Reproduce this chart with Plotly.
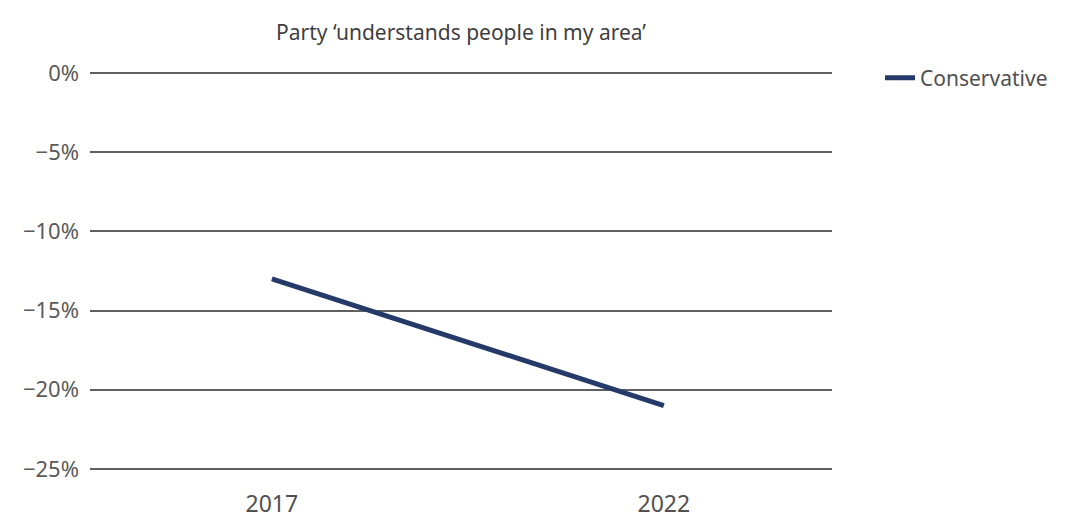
import plotly.graph_objects as go

# Survey years and net score for the Conservative party
years = ["2017", "2022"]
conservative = [-13, -21]

# Y axis tick values and their labels
y_ticks = [0, -5, -10, -15, -20, -25]
y_tick_labels = ["0%", "−5%", "−10%", "−15%", "−20%", "−25%"]

title_text = "Party ‘understands people in my area’"

fig = go.Figure()
fig.add_trace(go.Scatter(
    x=[0, 1],
    y=conservative,
    mode="lines",
    name="Conservative",
    line=dict(color="#253a68", width=5),
))

font_family = "Noto Sans, DejaVu Sans, sans-serif"

fig.update_layout(
    width=1080,
    height=520,
    paper_bgcolor="white",
    plot_bgcolor="white",
    margin=dict(l=90, r=248, t=70, b=48, autoexpand=False),
    title=dict(
        text=title_text,
        x=0.5,
        xanchor="center",
        xref="paper",
        y=1 - 33 / 520,
        yanchor="middle",
        yref="container",
        font=dict(family=font_family, size=21, color="#3f3f3f"),
    ),
    showlegend=True,
    legend=dict(
        xref="container", yref="container",
        x=880 / 1080, xanchor="left",
        y=1 - 78 / 520, yanchor="middle",
        font=dict(family=font_family, size=21, color="#505050"),
        bgcolor="rgba(0,0,0,0)",
    ),
    xaxis=dict(
        range=[-0.464, 1.429],
        tickvals=[0, 1],
        ticktext=years,
        showgrid=False,
        zeroline=False,
        showline=False,
        ticks="",
        automargin=False,
        tickfont=dict(family=font_family, size=23, color="#505050"),
        ticklabelstandoff=16,
    ),
    yaxis=dict(
        range=[-25.2, 0.2],
        tickvals=y_ticks,
        ticktext=y_tick_labels,
        showgrid=True,
        gridcolor="#606060",
        gridwidth=2,
        zeroline=False,
        showline=False,
        ticks="",
        automargin=False,
        tickfont=dict(family=font_family, size=22, color="#5a5a5a"),
        ticklabelstandoff=10,
    ),
)

fig.write_html("out.html")
